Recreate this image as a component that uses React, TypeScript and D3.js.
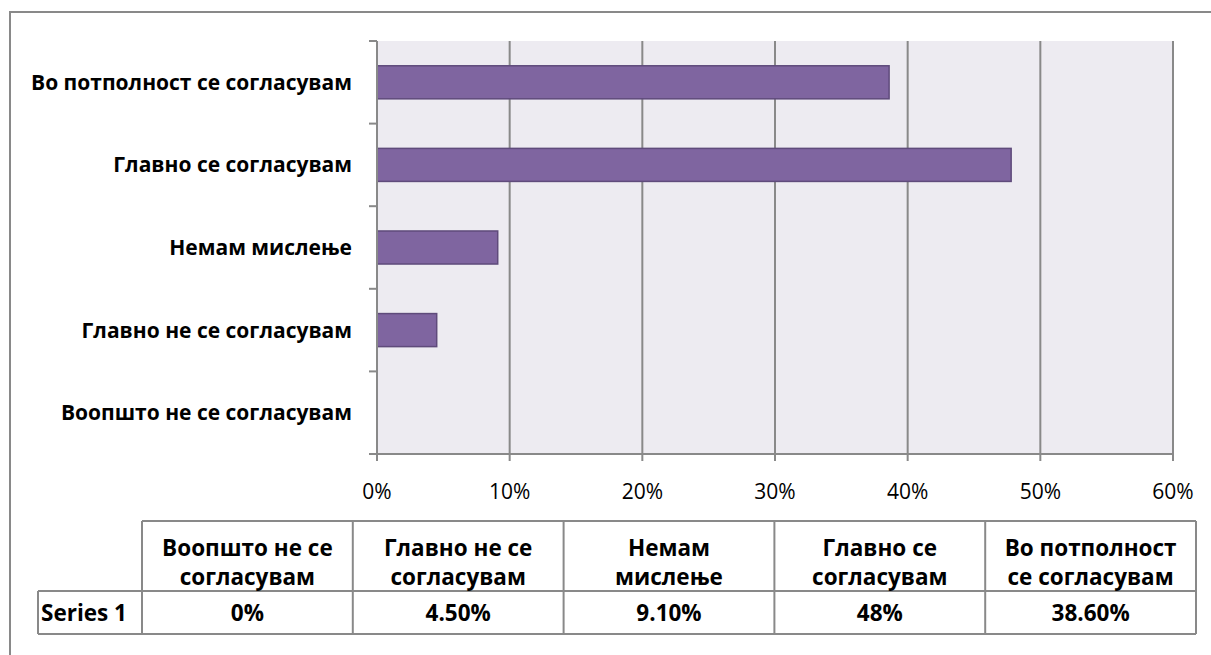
import React from "react";
import { scaleLinear, scaleBand, range } from "d3";

// categories from top to bottom as drawn on the y axis
const categories = [
  "Во потполност се согласувам",
  "Главно се согласувам",
  "Немам мислење",
  "Главно не се согласувам",
  "Воопшто не се согласувам",
];
const values = [0.386, 0.478, 0.091, 0.045, 0];

// data table (order as in the table)
const tableHeaders = [
  ["Воопшто не се", "согласувам"],
  ["Главно не се", "согласувам"],
  ["Немам", "мислење"],
  ["Главно се", "согласувам"],
  ["Во потполност", "се согласувам"],
];
const tableLabels = ["0%", "4.50%", "9.10%", "48%", "38.60%"];
const seriesName = "Series 1";
const xTicks = [0, 0.1, 0.2, 0.3, 0.4, 0.5, 0.6];

const W = 1211;
const H = 655;
const plot = { left: 377, right: 1173, top: 41, bottom: 454 };
const FONT = "'Open Sans', Lato, sans-serif";
const GRID = "#898989";

const App = () => {
  const x = scaleLinear().domain([0, 0.6]).range([plot.left, plot.right]);
  const y = scaleBand()
    .domain(categories)
    .range([plot.top, plot.bottom])
    .paddingInner(0.6)
    .paddingOuter(0.3);
  const step = y.step();
  const bandEdges = range(categories.length + 1).map(i => plot.top + i * step);

  // table geometry
  const colX = scaleLinear().domain([0, 5]).range([142, 1196]);
  const rowTop = 521;
  const rowMid = 591;
  const rowBot = 634;
  const firstColLeft = 38;
  const mid = (i: number) => (colX(i) + colX(i + 1)) / 2;

  return (
    <svg
      width={W}
      height={H}
      style={{ position: "absolute", left: 0, top: 0, background: "#fff" }}
      fontFamily={FONT}
    >
      <rect x={10} y={12} width={1210} height={700} fill="#fff" stroke={GRID} strokeWidth={2} />

      {/* plot area */}
      <rect
        x={plot.left}
        y={plot.top}
        width={plot.right - plot.left}
        height={plot.bottom - plot.top}
        fill="#EDEBF1"
      />
      {xTicks.slice(1).map(t => (
        <line key={t} x1={x(t)} x2={x(t)} y1={plot.top} y2={plot.bottom} stroke={GRID} strokeWidth={2} />
      ))}

      {/* bars */}
      {categories.map((c, i) =>
        values[i] > 0 ? (
          <rect
            key={c}
            x={x(0)}
            y={y(c)}
            width={x(values[i]) - x(0)}
            height={y.bandwidth()}
            fill="#7F65A0"
            stroke="#5F4B7B"
            strokeWidth={1.5}
          />
        ) : null
      )}

      {/* axes */}
      <line x1={plot.left} x2={plot.left} y1={plot.top} y2={plot.bottom} stroke={GRID} strokeWidth={2} />
      <line x1={plot.left - 8} x2={plot.right} y1={plot.bottom} y2={plot.bottom} stroke={GRID} strokeWidth={2} />
      {bandEdges.map((e, i) => (
        <line key={i} x1={plot.left - 8} x2={plot.left} y1={e} y2={e} stroke={GRID} strokeWidth={2} />
      ))}
      {xTicks.map(t => (
        <g key={t}>
          <line x1={x(t)} x2={x(t)} y1={plot.bottom} y2={plot.bottom + 7} stroke={GRID} strokeWidth={2} />
          <text x={x(t)} y={499} textAnchor="middle" fontSize={21} fill="#000">
            {Math.round(t * 100) + "%"}
          </text>
        </g>
      ))}
      {categories.map(c => (
        <text
          key={c}
          x={352}
          y={y(c)! + y.bandwidth() / 2}
          dy="0.36em"
          textAnchor="end"
          fontSize={21}
          fontWeight="bold"
          fill="#000"
        >
          {c}
        </text>
      ))}

      {/* data table */}
      <g stroke={GRID} strokeWidth={2} fill="none">
        <line x1={colX(0)} x2={colX(5)} y1={rowTop} y2={rowTop} />
        <line x1={firstColLeft} x2={colX(5)} y1={rowMid} y2={rowMid} />
        <line x1={firstColLeft} x2={colX(5)} y1={rowBot} y2={rowBot} />
        <line x1={firstColLeft} x2={firstColLeft} y1={rowMid} y2={rowBot} />
        {range(6).map(i => (
          <line key={i} x1={colX(i)} x2={colX(i)} y1={rowTop} y2={rowBot} />
        ))}
      </g>
      {tableHeaders.map((h, i) => (
        <text key={i} textAnchor="middle" fontSize={22.5} fontWeight="bold" fill="#000">
          <tspan x={mid(i)} y={556}>{h[0]}</tspan>
          <tspan x={mid(i)} y={585}>{h[1]}</tspan>
        </text>
      ))}
      <text x={41} y={621} fontSize={22.5} fontWeight="bold" fill="#000">
        {seriesName}
      </text>
      {tableLabels.map((l, i) => (
        <text key={i} x={mid(i)} y={621} textAnchor="middle" fontSize={22.5} fontWeight="bold" fill="#000">
          {l}
        </text>
      ))}
    </svg>
  );
};

export default App;
